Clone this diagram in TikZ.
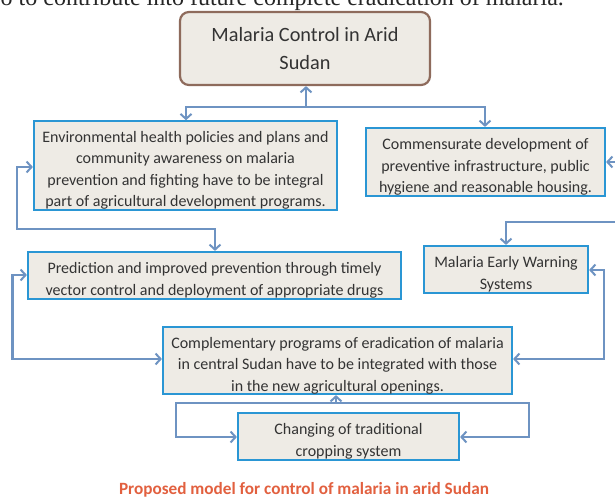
\documentclass[tikz,border=0pt]{standalone}
\usepackage{fontspec}
\setmainfont{Carlito}
\newfontfamily\serifpage{Liberation Serif}
\usetikzlibrary{arrows.meta,calc}
\definecolor{boxblue}{HTML}{2A96D4}
\definecolor{boxfill}{HTML}{EEEBE5}
\definecolor{topbrown}{HTML}{8E6B5C}
\definecolor{linkblue}{HTML}{6E93C2}
\definecolor{captred}{HTML}{E2603F}
\newcommand{\lowerstrut}{\rule{0pt}{21pt}}
\tikzset{
  x=1pt, y=-1pt,
  box/.style={draw=boxblue, fill=boxfill, line width=2.2pt, inner sep=0pt, align=center,
    font=\fontsize{16}{21.5}\selectfont, text=black!80},
  topbox/.style={draw=topbrown, fill=boxfill, line width=2.2pt, rounded corners=9pt, inner sep=0pt,
    align=center, font=\fontsize{20.3}{28}\selectfont, text=black!80},
  link/.style={draw=linkblue, line width=2.2pt},
  tipB/.tip={Straight Barb[length=5pt,width=11pt,line width=2pt]},
  arr/.style={link, -tipB},
  both/.style={link, tipB-tipB}
}
\begin{document}
\begin{tikzpicture}
\useasboundingbox (0,0) rectangle (615,500);
\fill[white] (0,0) rectangle (615,500);
\node[anchor=base west, font=\serifpage\fontsize{24}{28}\selectfont, inner sep=0pt, text=black!85] (pagetext) at (0.5,6) {o to contribute into future complete eradication of malaria.};

\node[topbox, minimum width=250pt, minimum height=73pt] (top) at (305,48.5) {Malaria Control in Arid\\Sudan};
\node[box, minimum width=303pt, minimum height=87pt] (env) at (185.5,165.5)
  {\lowerstrut Environmental health policies and plans and\\community awareness on malaria\\prevention and fighting have to be integral\\part of agricultural development programs.};
\node[box, minimum width=239pt, minimum height=68pt] (comm) at (485.5,162)
  {\lowerstrut Commensurate development of\\preventive infrastructure, public\\hygiene and reasonable housing.};
\node[box, minimum width=373pt, minimum height=47pt] (pred) at (214.5,275.5)
  {\lowerstrut Prediction and improved prevention through timely\\vector control and deployment of appropriate drugs};
\node[box, minimum width=164pt, minimum height=47pt] (mews) at (506,269.5)
  {\lowerstrut Malaria Early Warning\\Systems};
\node[box, minimum width=349pt, minimum height=67pt] (comp) at (337.5,360.5)
  {\lowerstrut Complementary programs of eradication of malaria\\in central Sudan have to be integrated with those\\in the new agricultural openings.};
\node[box, minimum width=221pt, minimum height=47pt] (chg) at (348.5,436.5)
  {\lowerstrut Changing of traditional\\cropping system};

\node[font=\bfseries\fontsize{17.2}{20}\selectfont, text=captred, inner sep=0pt] (cap) at (304,490)
  {Proposed model for control of malaria in arid Sudan};

% top junction
\coordinate (j1) at (306,107);
\coordinate (hL) at (186,107);
\coordinate (hR) at (485,107);
\draw[arr] (j1) -- (j1 |- top.south);
\draw[arr] (j1) -| (hL |- env.north);
\draw[arr] (j1) -| (hR |- comm.north);

% env <-> pred
\coordinate (eL) at (17,167);
\coordinate (eB) at (17,229);
\coordinate (pT) at (215,229);
\draw[both] (eL -| env.west) -- (eL) -- (eB) -- (pT) -- (pT |- pred.north);

% pred <-> comp
\coordinate (pL) at (12.5,275);
\coordinate (pB) at (12.5,359);
\draw[both] (pL -| pred.west) -- (pL) -- (pB) -- (pB -| comp.west);

% from right edge into comm and mews
\coordinate (cR) at (617,162);
\draw[arr] (cR) -- (cR -| comm.east);
\coordinate (mR) at (617,222);
\coordinate (mC) at (506,222);
\draw[arr] (mR) -- (mC) -- (mC |- mews.north);

% mews <-> comp
\coordinate (mL) at (604,270);
\coordinate (mB) at (604,359);
\draw[both] (mL -| mews.east) -- (mL) -- (mB) -- (mB -| comp.east);

% bottom loop
\coordinate (bU) at (336,403);
\coordinate (bL) at (176,403);
\coordinate (bR) at (529,403);
\coordinate (bLL) at (176,437);
\coordinate (bRR) at (529,437);
\draw[arr] (bU) -- (bU |- comp.south);
\draw[arr] (bU) -- (bL) -- (bLL) -- (bLL -| chg.west);
\draw[arr] (bU) -- (bR) -- (bRR) -- (bRR -| chg.east);
\end{tikzpicture}
\end{document}
